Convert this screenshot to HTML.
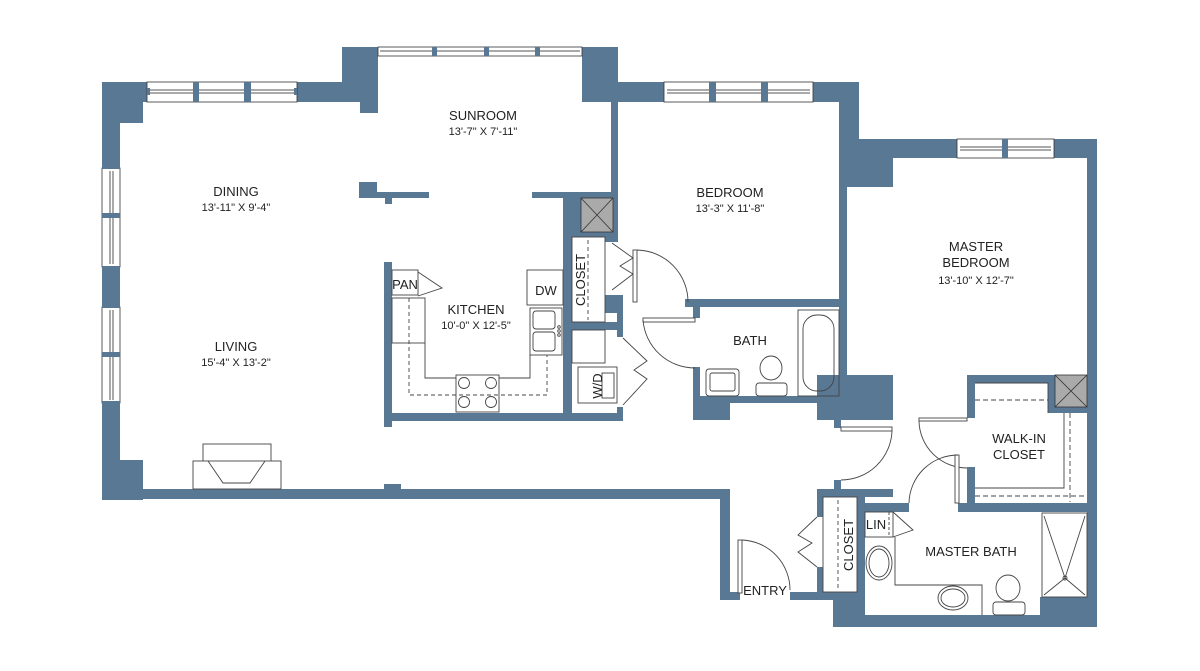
<!DOCTYPE html>
<html><head><meta charset="utf-8"><style>
html,body{margin:0;padding:0;background:#fff;}
svg{display:block;}
text{font-family:"Liberation Sans",sans-serif;fill:#222;}
.n{font-size:13px;text-anchor:middle;}
.d{font-size:11px;text-anchor:middle;}
</style></head><body>
<svg width="1200" height="671" viewBox="0 0 1200 671" xmlns="http://www.w3.org/2000/svg">
<g fill="#597894">
<rect x="102" y="82" width="18" height="418"/>
<rect x="102" y="82" width="45" height="20"/>
<rect x="102" y="100" width="41" height="23"/>
<rect x="102" y="460" width="41" height="40"/>
<rect x="102" y="489" width="628" height="10"/>
<rect x="384" y="484" width="17" height="6"/>
<rect x="297" y="82" width="45" height="20"/>
<rect x="342" y="47" width="36" height="55"/>
<rect x="360" y="100" width="18" height="13"/>
<rect x="582" y="47" width="36" height="55"/>
<rect x="611" y="100" width="7" height="98"/>
<rect x="532" y="192" width="86" height="6"/>
<rect x="359" y="182" width="18" height="16"/>
<rect x="359" y="192" width="70" height="6"/>
<rect x="385" y="196" width="7" height="8"/>
<rect x="618" y="82" width="46" height="20"/>
<rect x="813" y="82" width="46" height="20"/>
<rect x="839" y="82" width="20" height="58"/>
<rect x="839" y="100" width="8" height="277"/>
<rect x="847" y="140" width="46" height="47"/>
<rect x="847" y="139" width="110" height="19"/>
<rect x="1054" y="139" width="43" height="19"/>
<rect x="1087" y="139" width="10" height="488"/>
<rect x="563" y="192" width="55" height="45"/>
<rect x="563" y="192" width="9" height="229"/>
<rect x="605" y="232" width="13" height="10"/>
<rect x="605" y="295" width="18" height="18"/>
<rect x="617" y="295" width="6" height="42"/>
<rect x="563" y="322" width="60" height="8"/>
<rect x="617" y="407" width="6" height="14"/>
<rect x="384" y="262" width="8" height="165"/>
<rect x="384" y="413" width="239" height="8"/>
<rect x="685" y="299" width="158" height="8"/>
<rect x="693" y="303" width="7" height="15"/>
<rect x="693" y="367" width="7" height="30"/>
<rect x="693" y="396" width="150" height="7"/>
<rect x="693" y="396" width="37" height="24"/>
<rect x="817" y="375" width="76" height="45"/>
<rect x="834" y="418" width="7" height="10"/>
<rect x="967" y="375" width="88" height="8"/>
<rect x="967" y="375" width="8" height="43"/>
<rect x="1048" y="375" width="8" height="38"/>
<rect x="1054" y="407" width="34" height="6"/>
<rect x="967" y="467" width="8" height="38"/>
<rect x="958" y="503" width="130" height="9"/>
<rect x="720" y="489" width="10" height="111"/>
<rect x="720" y="592" width="20" height="8"/>
<rect x="790" y="592" width="75" height="8"/>
<rect x="817" y="489" width="76" height="8"/>
<rect x="834" y="480" width="7" height="10"/>
<rect x="817" y="489" width="6" height="28"/>
<rect x="817" y="567" width="6" height="30"/>
<rect x="857" y="489" width="8" height="110"/>
<rect x="865" y="503" width="44" height="9"/>
<rect x="833" y="592" width="32" height="35"/>
<rect x="833" y="615" width="264" height="12"/>
<rect x="1040" y="597" width="48" height="20"/>
</g>
<g fill="#fff" stroke="#333" stroke-width="0.8">
<rect x="147" y="82" width="150" height="20"/>
<rect x="378" y="47" width="204" height="9"/>
<rect x="664" y="82" width="149" height="20"/>
<rect x="957" y="139" width="97" height="19"/>
<rect x="102" y="168" width="18" height="99"/>
<rect x="102" y="307" width="18" height="96"/>
</g>
<g stroke="#555" stroke-width="1" fill="none">
<line x1="150" y1="90" x2="294" y2="90"/><line x1="150" y1="93" x2="294" y2="93"/>
<line x1="380" y1="51" x2="580" y2="51"/>
<line x1="667" y1="90" x2="810" y2="90"/><line x1="667" y1="93" x2="810" y2="93"/>
<line x1="960" y1="147" x2="1051" y2="147"/><line x1="960" y1="150" x2="1051" y2="150"/>
<line x1="110" y1="171" x2="110" y2="264"/><line x1="113" y1="171" x2="113" y2="264"/>
<line x1="110" y1="310" x2="110" y2="400"/><line x1="113" y1="310" x2="113" y2="400"/>
</g>
<g fill="#597894">
<rect x="193" y="82" width="6" height="20"/><rect x="244" y="82" width="7" height="20"/>
<rect x="147" y="88" width="3" height="7"/><rect x="294" y="88" width="3" height="7"/>
<rect x="432" y="47" width="5" height="9"/><rect x="484" y="47" width="5" height="9"/><rect x="535" y="47" width="5" height="9"/>
<rect x="709" y="82" width="7" height="20"/><rect x="761" y="82" width="7" height="20"/>
<rect x="1002" y="139" width="6" height="19"/>
<rect x="102" y="213" width="18" height="5"/><rect x="102" y="352" width="18" height="5"/>
<rect x="102" y="166" width="18" height="3"/><rect x="102" y="266" width="18" height="3"/>
<rect x="102" y="305" width="18" height="3"/><rect x="102" y="401" width="18" height="3"/>
</g>
<g fill="#aaa" stroke="#333" stroke-width="0.8">
<rect x="581" y="198" width="32" height="34"/>
<rect x="1055" y="375" width="32" height="32"/>
</g>
<g stroke="#333" stroke-width="0.8" fill="none">
<path d="M581 198L613 232M613 198L581 232M1055 375L1087 407M1087 375L1055 407"/>
</g>
<g stroke="#444" stroke-width="0.9" fill="none">
<rect x="203" y="444" width="68" height="18" fill="#fff"/>
<rect x="193" y="461" width="88" height="28" fill="#fff"/>
<path d="M208 461L223 483H250L265 461"/>
<rect x="392" y="270" width="26" height="25"/>
<path d="M418 272L442 288L418 296"/>
<rect x="392" y="298" width="33" height="45"/>
<path d="M425 343V378H456M499 378H530V355"/>
<path d="M409 298V395H547V355" stroke-dasharray="4,3"/>
<rect x="456" y="375" width="43" height="37"/>
<circle cx="464" cy="383" r="5.5"/><circle cx="491" cy="383" r="5.5"/>
<circle cx="464" cy="402" r="5.5"/><circle cx="491" cy="402" r="5.5"/>
<rect x="527" y="270" width="36" height="35"/>
<rect x="530" y="308" width="32" height="47"/>
<rect x="533" y="311" width="22" height="18" rx="3"/><rect x="533" y="332" width="22" height="19" rx="3"/>
<circle cx="559" cy="327" r="1.3"/><circle cx="559" cy="331" r="1.3"/><circle cx="559" cy="335" r="1.3"/>
<rect x="572" y="237" width="33" height="85"/>
<line x1="588" y1="240" x2="588" y2="320" stroke-dasharray="4,3"/>
<path d="M612 243L633 258L620 266L633 274L612 290"/>
<rect x="572" y="330" width="33" height="33"/>
<rect x="578" y="367" width="39" height="36"/>
<rect x="602" y="373" width="12" height="25"/>
<path d="M623 338L647 361L634 370L647 379L623 405"/>
<rect x="633" y="250" width="4" height="52" fill="#fff"/>
<path d="M637 250A52 52 0 0 1 688 302"/>
<rect x="643" y="318" width="52" height="4" fill="#fff"/>
<path d="M643 320A52 52 0 0 0 695 368"/>
<rect x="798" y="310" width="41" height="86"/>
<rect x="803" y="315" width="31" height="76" rx="14"/>
<rect x="706" y="369" width="33" height="27" rx="3"/>
<rect x="710" y="373" width="25" height="18" rx="2"/>
<ellipse cx="771" cy="368" rx="11" ry="12"/>
<rect x="756" y="383" width="31" height="13" rx="3" fill="#fff"/>
<rect x="841" y="427" width="51" height="4" fill="#fff"/>
<path d="M892 431A51 51 0 0 1 841 480"/>
<path d="M975 383H1048V413"/>
<line x1="975" y1="400" x2="1048" y2="400" stroke-dasharray="5,3"/>
<path d="M975 488H1064V413"/>
<line x1="1070" y1="413" x2="1070" y2="502" stroke-dasharray="5,3"/>
<line x1="975" y1="496" x2="1087" y2="496" stroke-dasharray="5,3"/>
<rect x="919" y="418" width="48" height="3" fill="#fff"/>
<path d="M919 421A48 48 0 0 0 967 468"/>
<rect x="955" y="455" width="4" height="48" fill="#fff"/>
<path d="M909 503A49 49 0 0 1 958 455"/>
<rect x="738" y="540" width="4" height="53" fill="#fff"/>
<path d="M742 540A50 50 0 0 1 790 590"/>
<rect x="823" y="497" width="34" height="95"/>
<line x1="838" y1="500" x2="838" y2="590" stroke-dasharray="4,3"/>
<path d="M817 517L798 535L812 543L798 552L817 567"/>
<rect x="865" y="512" width="28" height="25"/>
<path d="M893 512L913 530L893 537"/>
<line x1="889" y1="512" x2="889" y2="537" stroke-dasharray="3,2"/>
<path d="M895 537V585H982V615"/>
<ellipse cx="879" cy="563" rx="13" ry="17"/><ellipse cx="879" cy="563" rx="10" ry="14"/>
<ellipse cx="953" cy="598" rx="15" ry="12"/><ellipse cx="953" cy="598" rx="12" ry="9"/>
<ellipse cx="1008" cy="588" rx="12" ry="13"/>
<rect x="993" y="602" width="32" height="13" rx="3" fill="#fff"/>
<rect x="1042" y="513" width="45" height="84"/>
<path d="M1044 516L1065 578L1085 516M1044 595L1065 578L1085 595"/>
<circle cx="1065" cy="578" r="2"/>
</g>
<text class="n" x="483" y="120">SUNROOM</text>
<text class="d" x="483" y="135">13'-7" X 7'-11"</text>
<text class="n" x="236" y="196">DINING</text>
<text class="d" x="236" y="211">13'-11" X 9'-4"</text>
<text class="n" x="236" y="351">LIVING</text>
<text class="d" x="236" y="366">15'-4" X 13'-2"</text>
<text class="n" x="476" y="314">KITCHEN</text>
<text class="d" x="476" y="329">10'-0" X 12'-5"</text>
<text class="n" x="730" y="197">BEDROOM</text>
<text class="d" x="730" y="212">13'-3" X 11'-8"</text>
<text class="n" x="976" y="251">MASTER</text>
<text class="n" x="976" y="267">BEDROOM</text>
<text class="d" x="976" y="284">13'-10" X 12'-7"</text>
<text class="n" x="750" y="345">BATH</text>
<text class="n" x="1019" y="443">WALK-IN</text>
<text class="n" x="1019" y="459">CLOSET</text>
<text class="n" x="971" y="556">MASTER BATH</text>
<text class="n" x="765" y="595">ENTRY</text>
<text class="n" x="405" y="289">PAN</text>
<text class="n" x="546" y="295">DW</text>
<text class="n" x="876" y="529">LIN</text>
<text class="n" transform="translate(585,280) rotate(-90)">CLOSET</text>
<text class="n" transform="translate(853,545) rotate(-90)">CLOSET</text>
<text class="n" transform="translate(602,386) rotate(-90)">W/D</text>
</svg>
</body></html>
